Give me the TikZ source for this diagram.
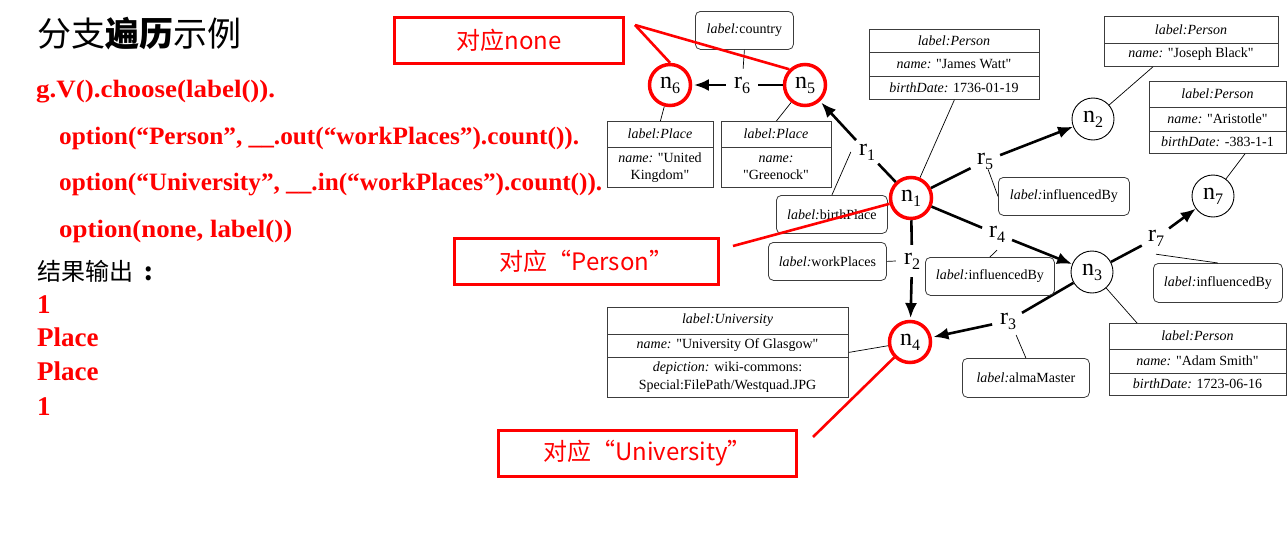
\documentclass[tikz,border=0pt]{standalone}
\usepackage{fontspec}
\setmainfont{Liberation Serif}[Ligatures=TeXOff]
\newfontfamily\cjk{Noto Sans CJK SC}
\usetikzlibrary{arrows.meta}
\definecolor{pred}{RGB}{255,0,0}
\definecolor{bgray}{RGB}{60,60,60}
\newcommand\mysb[1]{\raisebox{-5pt}{\fontsize{16}{16}\selectfont #1}}
\begin{document}
\begin{tikzpicture}[x=1pt,y=-1pt,
  redc/.style={circle, draw=pred, line width=3.5pt, minimum size=41pt, inner sep=0pt, font=\fontsize{24}{24}\selectfont},
  blkc/.style={circle, draw=black, line width=0.9pt, minimum size=42pt, inner sep=0pt, font=\fontsize{24}{24}\selectfont},
  rlab/.style={circle, minimum size=32pt, inner sep=0pt, font=\fontsize{24}{24}\selectfont},
  edge/.style={line width=2.6pt, -{Latex[length=15pt,width=12pt]}},
  edgeplain/.style={line width=2.6pt},
  pbox/.style={draw=bgray, line width=0.8pt, inner sep=0pt, anchor=north west},
  lbox/.style={draw=bgray, line width=0.8pt, rounded corners=5pt, inner sep=0pt, anchor=north west, font=\fontsize{14}{17}\selectfont},
  ptxt/.style={font=\fontsize{14}{17}\selectfont, inner sep=0pt, align=center},
  sepl/.style={draw=bgray, line width=0.8pt},
  conn/.style={line width=0.7pt},
  redline/.style={draw=pred, line width=2.6pt},
  redbox/.style={draw=pred, line width=3pt, inner sep=0pt, anchor=north west, font=\cjk\fontsize{24}{24}\selectfont, text=pred},
  code/.style={anchor=base west, inner sep=0pt, text=pred, font=\bfseries\fontsize{25}{25}\selectfont},
  outp/.style={anchor=base west, inner sep=0pt, text=pred, font=\bfseries\fontsize{27}{27}\selectfont},
]
\useasboundingbox (0,0) rectangle (1287,546);

% ---------- left text ----------
\node[anchor=base west, inner sep=0pt, font=\cjk\fontsize{34}{34}\selectfont] (title) at (37,46) {分支{\bfseries 遍历}示例};
\node[code] (l1) at (36,97) {\resizebox{239pt}{\height}{g.V().choose(label()).}};
\node[code] (l2) at (59,144) {\resizebox{520pt}{\height}{option(“Person”, \_\_.out(“workPlaces”).count()).}};
\node[code] (l3) at (59,190) {\resizebox{543pt}{\height}{option(“University”, \_\_.in(“workPlaces”).count()).}};
\node[code] (l4) at (59,237) {\resizebox{233pt}{\height}{option(none, label())}};
\node[anchor=base west, inner sep=0pt, font=\cjk\fontsize{24}{24}\selectfont] (res) at (37,280) {结果输出\hspace{11pt}{\bfseries :}};
\node[outp] (o1) at (37,313) {1};
\node[outp] (o2) at (37,346) {Place};
\node[outp] (o3) at (37,380) {Place};
\node[outp] (o4) at (37,415) {1};

% ---------- red boxes ----------
\node[redbox, minimum width=229pt, minimum height=46pt] (bnone) at (393,16) {对应none};
\node[redbox, minimum width=264pt, minimum height=46pt] (bper) at (453,237) {对应“Person”};
\node[redbox, minimum width=298pt, minimum height=46pt] (buni) at (497,429) {对应“University”};

% ---------- graph nodes ----------
\node[redc] (n6) at (670,85) {n\mysb{6}};
\node[redc] (n5) at (805,85) {n\mysb{5}};
\node[redc] (n1) at (911,198) {n\mysb{1}};
\node[blkc] (n2) at (1093,119) {n\mysb{2}};
\node[blkc] (n7) at (1213,196) {n\mysb{7}};
\node[blkc] (n3) at (1092,272) {n\mysb{3}};
\node[redc] (n4) at (910,342) {n\mysb{4}};

\node[rlab] (r6) at (742,85) {r\mysb{6}};
\node[rlab] (r1) at (867,152) {r\mysb{1}};
\node[rlab] (r5) at (985,161) {r\mysb{5}};
\node[rlab] (r4) at (997,234) {r\mysb{4}};
\node[rlab] (r2) at (912,261) {r\mysb{2}};
\node[rlab] (r3) at (1008,321) {r\mysb{3}};
\node[rlab] (r7) at (1156,238) {r\mysb{7}};

% ---------- edges ----------
\draw[edgeplain] (n5) -- (r6);
\draw[edge, shorten >=1.7pt] (r6) -- (n6);
\draw[edgeplain] (n1) -- (r1);
\draw[edge, shorten >=1.7pt] (r1) -- (n5);
\draw[edgeplain] (n1) -- (r5);
\draw[edge] (r5) -- (n2);
\draw[edgeplain] (n1) -- (r4);
\draw[edge] (r4) -- (n3);
\draw[edgeplain] (n1) -- (r2);
\draw[edge, shorten >=1.7pt] (r2) -- (n4);
\draw[edgeplain] (n3) -- (r3);
\draw[edge, shorten >=1.7pt] (r3) -- (n4);
\draw[edgeplain] (n3) -- (r7);
\draw[edge] (r7) -- (n7);

% ---------- edge label boxes ----------
\node[lbox, minimum width=98pt, minimum height=38pt] (cty) at (695,11) {\textit{label:}country};
\node[lbox, minimum width=111pt, minimum height=38pt] (bp) at (776,195) {\textit{label:}birthPlace};
\node[lbox, minimum width=118pt, minimum height=38pt] (wp) at (768,242) {\textit{label:}workPlaces};
\node[lbox, minimum width=131pt, minimum height=38pt] (ib5) at (998,177) {\textit{label:}influencedBy};
\node[lbox, minimum width=129pt, minimum height=38pt] (ib4) at (925,257) {\textit{label:}influencedBy};
\node[lbox, minimum width=129pt, minimum height=39pt] (ib7) at (1153,263) {\textit{label:}influencedBy};
\node[lbox, minimum width=127pt, minimum height=39pt] (am) at (962,358) {\textit{label:}almaMaster};

\draw[conn] (cty.south) -- (r6);
\draw[conn] (r1.west) -- (bp.north);
\draw[conn, shorten <=9pt] (r5.center) -- (ib5.west);
\draw[conn] (r4.south) -- (ib4.north);
\draw[conn] (r7.south) -- (ib7.north);
\draw[conn] (r3.-60) -- (am.north);
\draw[conn] (wp.east) -- (r2.west);

% ---------- property boxes ----------
% n6
\node[pbox, minimum width=106pt, minimum height=66pt] (b6) at (607,121) {};
\draw[sepl] (607,147) -- (713,147);
\node[ptxt] (b6a) at (660,134) {\textit{label:Place}};
\node[ptxt] (b6b) at (660,168) {\textit{name:} "United\\Kingdom"};
% n5
\node[pbox, minimum width=110pt, minimum height=66pt] (b5) at (721,121) {};
\draw[sepl] (721,147) -- (831,147);
\node[ptxt] (b5a) at (776,134) {\textit{label:Place}};
\node[ptxt] (b5b) at (776,168) {\textit{name:}\\"Greenock"};
% n1
\node[pbox, minimum width=170pt, minimum height=70pt] (b1) at (869,29) {};
\draw[sepl] (869,52) -- (1039,52);
\draw[sepl] (869,76) -- (1039,76);
\node[ptxt] (b1a) at (954,41) {\textit{label:Person}};
\node[ptxt] (b1b) at (954,64) {\textit{name:} "James Watt"};
\node[ptxt] (b1c) at (954,88) {\textit{birthDate:} 1736-01-19};
% n2
\node[pbox, minimum width=174pt, minimum height=50pt] (b2) at (1104,16) {};
\draw[sepl] (1104,43) -- (1278,43);
\node[ptxt] (b2a) at (1191,29.5) {\textit{label:Person}};
\node[ptxt] (b2b) at (1191,54.5) {\textit{name:} "Joseph Black"};
% n7
\node[pbox, minimum width=137pt, minimum height=72pt] (b7) at (1149,81) {};
\draw[sepl] (1149,107) -- (1286,107);
\draw[sepl] (1149,131) -- (1286,131);
\node[ptxt] (b7a) at (1217.5,94) {\textit{label:Person}};
\node[ptxt] (b7b) at (1217.5,119) {\textit{name:} "Aristotle"};
\node[ptxt] (b7c) at (1217.5,142) {\textit{birthDate:} -383-1-1};
% n4
\node[pbox, minimum width=241pt, minimum height=90pt] (b4) at (607,307) {};
\draw[sepl] (607,334) -- (848,334);
\draw[sepl] (607,357) -- (848,357);
\node[ptxt] (b4a) at (727.5,320.5) {\textit{label:University}};
\node[ptxt] (b4b) at (727.5,345.5) {\textit{name:} "University Of Glasgow"};
\node[ptxt, font=\fontsize{14}{18}\selectfont] (b4c) at (727.5,377) {\textit{depiction:} wiki-commons:\\Special:FilePath/Westquad.JPG};
% n3
\node[pbox, minimum width=177pt, minimum height=72pt] (b3) at (1109,323) {};
\draw[sepl] (1109,349) -- (1286,349);
\draw[sepl] (1109,373) -- (1286,373);
\node[ptxt] (b3a) at (1197.5,336) {\textit{label:Person}};
\node[ptxt] (b3b) at (1197.5,361) {\textit{name:} "Adam Smith"};
\node[ptxt] (b3c) at (1197.5,384) {\textit{birthDate:} 1723-06-16};

% property connectors
\draw[conn] (b6.north) -- (n6);
\draw[conn] (b5.north) -- (n5);
\draw[conn] (b1.south) -- (n1);
\draw[conn] ([xshift=49pt]b2.south west) -- (n2);
\draw[conn] ([xshift=96pt]b7.south west) -- (n7);
\draw[conn] (b4.east) -- (n4);
\draw[conn] ([xshift=28pt]b3.north west) -- (n3);

% ---------- red pointer lines ----------
\coordinate (cNone) at (635,25);
\coordinate (cPer) at (733,246);
\coordinate (cUni) at (813,437);
\draw[redline] (cNone) -- (n6.north);
\draw[redline] (cNone) -- (n5.135);
\draw[redline] (cPer) -- (n1);
\draw[redline] (cUni) -- (n4);
\end{tikzpicture}
\end{document}
